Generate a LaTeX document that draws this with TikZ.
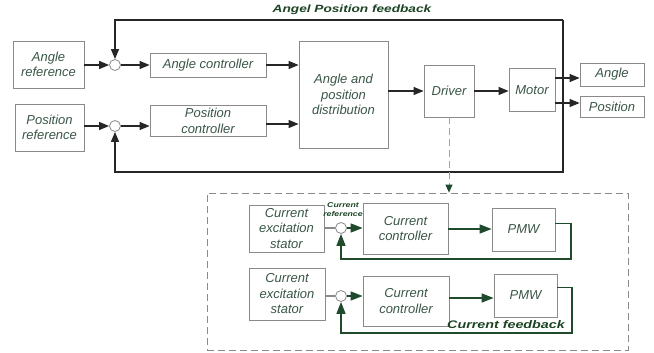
\documentclass[tikz,border=0pt]{standalone}
\usepackage{fontspec}
\setmainfont{Liberation Sans}
\usetikzlibrary{arrows.meta}
\definecolor{txtgreen}{HTML}{3A5646}
\definecolor{lblgreen}{HTML}{1C4424}
\definecolor{wiregreen}{HTML}{1F4A2C}
\definecolor{boxgray}{HTML}{8A8A8A}
\definecolor{dashblue}{HTML}{8FA8BC}
\begin{document}
\begin{tikzpicture}[x=1pt,y=-1pt,
    blk/.style={draw=boxgray,line width=0.8pt,fill=white,align=center,inner sep=1pt,
        font=\fontsize{13}{15.5}\selectfont\itshape,text=txtgreen},
    sumpt/.style={draw=boxgray,line width=0.8pt,fill=white,circle,inner sep=0pt,minimum size=11pt},
    wire/.style={line width=1.2pt,draw=black!85},
    arr/.style={wire,-{Triangle[length=10pt,width=8pt]}},
    gwire/.style={line width=1.4pt,draw=wiregreen},
    garr/.style={gwire,-{Triangle[length=12pt,width=9pt]}},
    lbl/.style={font=\bfseries\itshape,text=lblgreen,inner sep=0pt}]
\useasboundingbox (0,0) rectangle (654,353);
\node[blk,minimum width=71pt,minimum height=47pt] (aref) at (48.5,64.5) {Angle\\reference};
\node[blk,minimum width=69pt,minimum height=47pt] (pref) at (49.5,127.5) {Position\\reference};
\node[sumpt] (sa) at (115,65) {};
\node[sumpt] (sp) at (115,126) {};
\node[blk,minimum width=116pt,minimum height=24pt] (actrl) at (208,65) {Angle controller};
\node[blk,minimum width=116pt,minimum height=31pt] (pctrl) at (208,121) {Position\\controller};
\node[blk,minimum width=89pt,minimum height=107pt] (dist) at (343.5,94.5) {Angle and\\position\\distribution};
\node[blk,minimum width=50pt,minimum height=52pt] (drv) at (449,91) {Driver};
\node[blk,minimum width=46pt,minimum height=43pt] (mot) at (532,90) {Motor};
\node[blk,minimum width=64pt,minimum height=23pt] (oang) at (612,74.5) {Angle};
\node[blk,minimum width=64pt,minimum height=21pt] (opos) at (612,106.5) {Position};
\coordinate (fbtop) at (563,20);
\coordinate (fbbot) at (563,172);
\draw[arr] (aref.east |- sa) -- (sa.west);
\draw[arr] (pref.east |- sp) -- (sp.west);
\draw[arr] (sa.east) -- (actrl.west);
\draw[arr] (sp.east) -- (sp.east -| pctrl.west);
\draw[arr] (actrl.east) -- (actrl.east -| dist.west);
\draw[arr] ([yshift=-3pt]pctrl.east) -- ([yshift=-3pt]pctrl.east -| dist.west);
\draw[arr] (dist.east |- drv) -- (drv.west);
\draw[arr] (drv.east) -- (drv.east -| mot.west);
\draw[arr] ([yshift=12pt]mot.east) -- ([yshift=12pt]mot.east -| oang.west);
\draw[arr] ([yshift=-13pt]mot.east) -- ([yshift=-13pt]mot.east -| opos.west);
\draw[arr] (fbtop) -- (fbtop -| sa) -- (sa.north);
\draw[arr] (fbtop) -- (fbbot) -- (fbbot -| sp) -- (sp.south);
\node[lbl,font=\fontsize{10.5}{12}\selectfont\bfseries\itshape] (afb) at (352,10) {\scalebox{1.3}[1]{Angel Position feedback}};
\node[draw=boxgray,dash pattern=on 7pt off 4pt,line width=0.8pt,minimum width=421pt,minimum height=157pt,inner sep=0pt] (dbox) at (417.5,271.5) {};
\draw[dashblue,dash pattern=on 7pt off 4pt,line width=0.9pt,-{Triangle[length=8pt,width=7pt,color=wiregreen]}] (drv.south) -- (drv.south |- dbox.north);
\node[blk,minimum width=75pt,minimum height=47pt] (st1) at (286.5,228.5) {Current\\excitation\\stator};
\node[sumpt] (cs1) at (341,228) {};
\node[blk,minimum width=85pt,minimum height=51pt] (cc1) at (405.5,228.5) {Current\\controller};
\node[blk,minimum width=63pt,minimum height=43pt] (pmw1) at (523.5,229.5) {PMW};
\node[blk,minimum width=76pt,minimum height=52pt] (st2) at (287,294) {Current\\excitation\\stator};
\node[sumpt] (cs2) at (341,296) {};
\node[blk,minimum width=86pt,minimum height=50pt] (cc2) at (406,301) {Current\\controller};
\node[blk,minimum width=63pt,minimum height=43pt] (pmw2) at (525.5,295.5) {PMW};
\coordinate (lp1) at (571,259);
\coordinate (lp2) at (572,333);
\draw[gwire,draw=boxgray] (st1.east |- cs1) -- (cs1.west);
\draw[gwire,draw=boxgray] (st2.east |- cs2) -- (cs2.west);
\draw[garr] (cs1.east) -- (cs1.east -| cc1.west);
\draw[garr] (cs2.east) -- (cs2.east -| cc2.west);
\draw[garr] ([yshift=-0.5pt]cc1.east) -- ([yshift=-0.5pt]cc1.east -| pmw1.west);
\draw[garr] ([yshift=3pt]cc2.east) -- ([yshift=3pt]cc2.east -| pmw2.west);
\draw[garr] ([yshift=6pt]pmw1.east) -| (lp1) -| (cs1.south);
\draw[garr] ([yshift=8pt]pmw2.east) -| (lp2) -| (cs2.south);
\node[lbl,align=center,font=\fontsize{7}{9}\selectfont\bfseries\itshape] (cref) at (343,210) {\scalebox{1.25}[1]{Current}\\\scalebox{1.25}[1]{reference}};
\node[lbl,font=\fontsize{11}{13}\selectfont\bfseries\itshape] (cfb) at (506,325) {\scalebox{1.3}[1]{Current feedback}};
\end{tikzpicture}
\end{document}
